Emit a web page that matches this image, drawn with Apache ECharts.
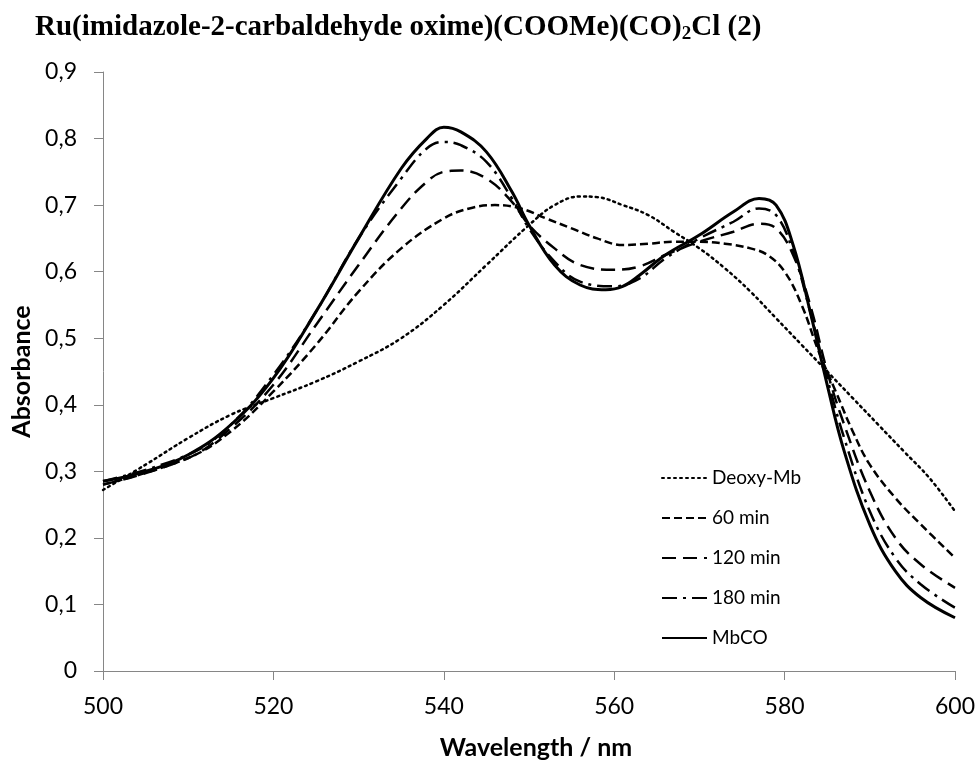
<!DOCTYPE html>
<html>
<head>
<meta charset="utf-8">
<script src="https://cdn.jsdelivr.net/npm/echarts@6/dist/echarts.min.js"></script>
<style>html,body{margin:0;padding:0;background:#fff;}#c{width:979px;height:765px;}</style>
</head>
<body>
<div id="c"></div>
<script>
const xTicks = [500, 520, 540, 560, 580, 600];
const yTicks = [0, 0.1, 0.2, 0.3, 0.4, 0.5, 0.6, 0.7, 0.8, 0.9];
const seriesNames = ['Deoxy-Mb', '60 min', '120 min', '180 min', 'MbCO'];

const deoxy = [[500,0.272],[505,0.31],[510,0.35],[515,0.385],[520,0.41],[525,0.435],[530,0.465],[535,0.5],[540,0.55],[545,0.61],[550,0.67],[553,0.70],[556,0.713],[558,0.712],[561,0.70],[564,0.685],[567,0.66],[570,0.635],[573,0.605],[576,0.57],[579,0.53],[582,0.49],[585,0.45],[588,0.41],[591,0.37],[594,0.33],[597,0.29],[600,0.24]];
const min60 = [[500,0.28],[510,0.32],[515,0.36],[520,0.42],[525,0.49],[530,0.57],[535,0.635],[540,0.68],[543,0.695],[546,0.70],[549,0.695],[552,0.68],[555,0.665],[558,0.65],[561,0.64],[564,0.642],[567,0.645],[570,0.645],[573,0.642],[576,0.635],[578,0.625],[580,0.6],[582,0.55],[584,0.48],[586,0.42],[588,0.36],[590,0.31],[593,0.26],[596,0.22],[600,0.17]];
const min120 = [[500,0.28],[510,0.32],[515,0.365],[520,0.43],[525,0.52],[530,0.61],[535,0.695],[538,0.735],[540,0.75],[542,0.752],[545,0.74],[548,0.705],[550,0.67],[553,0.635],[556,0.61],[560,0.603],[563,0.608],[566,0.625],[570,0.645],[574,0.66],[577,0.672],[579,0.665],[581,0.625],[583,0.55],[585,0.45],[587,0.37],[590,0.27],[593,0.2],[596,0.16],[600,0.125]];
const min180 = [[500,0.285],[510,0.325],[515,0.37],[520,0.445],[525,0.54],[530,0.65],[535,0.74],[538,0.785],[540,0.795],[542,0.79],[545,0.765],[548,0.71],[550,0.665],[553,0.615],[556,0.585],[560,0.578],[563,0.59],[566,0.62],[570,0.65],[574,0.675],[577,0.695],[579,0.685],[581,0.63],[583,0.54],[585,0.44],[587,0.35],[590,0.24],[593,0.17],[596,0.13],[600,0.095]];
const mbco = [[500,0.285],[505,0.30],[510,0.325],[515,0.37],[520,0.44],[525,0.54],[530,0.65],[535,0.755],[538,0.80],[540,0.817],[542,0.81],[545,0.78],[548,0.72],[550,0.67],[553,0.61],[556,0.58],[559,0.573],[561,0.578],[563,0.595],[566,0.625],[570,0.655],[574,0.69],[577,0.71],[579,0.70],[581,0.64],[583,0.54],[585,0.43],[587,0.33],[590,0.22],[593,0.15],[596,0.11],[600,0.08]];

const dataSets = [deoxy, min60, min120, min180, mbco];
const styles = [
  {width: 2.5, type: [2, 4], cap: 'round'},
  {width: 2.5, type: [8, 4], cap: 'butt'},
  {width: 2.5, type: [14, 7], cap: 'butt'},
  {width: 2.5, type: [15, 6, 3, 6], cap: 'butt'},
  {width: 3, type: 'solid', cap: 'butt'}
];

const chart = echarts.init(document.getElementById('c'));
const axisFont = 'Lato, "Open Sans", sans-serif';
chart.setOption({
  animation: false,
  backgroundColor: '#fff',
  title: {
    text: '{a|Ru(imidazole-2-carbaldehyde oxime)(COOMe)(CO)}{s|2}{a|Cl (2)}',
    left: 30, top: 6,
    textStyle: {
      rich: {
        a: {fontFamily: '"Liberation Serif", "Times New Roman", serif', fontWeight: 'bold', fontSize: 29, color: '#000'},
        s: {fontFamily: '"Liberation Serif", "Times New Roman", serif', fontWeight: 'bold', fontSize: 19, color: '#000', verticalAlign: 'bottom', padding: [14, 0, 0, 0]}
      }
    }
  },
  legend: {
    orient: 'vertical',
    left: 656, top: 462,
    itemWidth: 45, itemHeight: 14, itemGap: 18,
    itemStyle: {opacity: 0},
    textStyle: {fontFamily: axisFont, fontSize: 19, color: '#000', lineHeight: 22},
    data: seriesNames
  },
  grid: {left: 103, right: 24, top: 72, bottom: 91, containLabel: false},
  xAxis: {
    type: 'value', min: 500, max: 600, interval: 20,
    name: 'Wavelength / nm', nameLocation: 'middle', nameGap: 64,
    nameTextStyle: {fontFamily: axisFont, fontSize: 25, fontWeight: 'bold', color: '#000', padding: [0, 0, 0, 14]},
    axisLine: {show: true, onZero: false, lineStyle: {color: '#868686', width: 1}},
    axisTick: {show: true, length: 9, lineStyle: {color: '#868686'}},
    axisLabel: {fontFamily: axisFont, fontSize: 23, color: '#000', margin: 24,
      formatter: v => xTicks.includes(v) ? String(v) : ''},
    splitLine: {show: false}
  },
  yAxis: {
    type: 'value', min: 0, max: 0.9, interval: 0.1,
    name: 'Absorbance', nameLocation: 'middle', nameGap: 64,
    nameTextStyle: {fontFamily: axisFont, fontSize: 25, fontWeight: 'bold', color: '#000'},
    axisLine: {show: true, lineStyle: {color: '#868686', width: 1}},
    axisTick: {show: true, length: 9, lineStyle: {color: '#868686'}},
    axisLabel: {fontFamily: axisFont, fontSize: 23, color: '#000', margin: 26,
      formatter: v => {
        const t = yTicks.find(y => Math.abs(y - v) < 1e-6);
        if (t === undefined) return '';
        return t === 0 ? '0' : t.toFixed(1).replace('.', ',');
      }},
    splitLine: {show: false}
  },
  series: seriesNames.map((n, i) => ({
    name: n, type: 'line', smooth: 0.4, showSymbol: false, symbol: 'none',
    data: dataSets[i],
    lineStyle: {color: '#000', width: styles[i].width, type: styles[i].type, cap: styles[i].cap},
    itemStyle: {color: '#000'}
  }))
});
</script>
</body>
</html>
